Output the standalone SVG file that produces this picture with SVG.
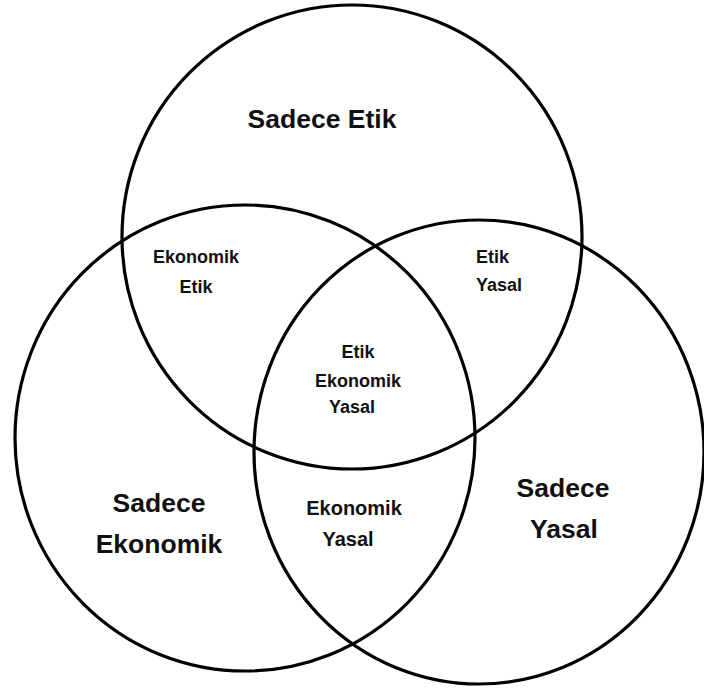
<svg xmlns="http://www.w3.org/2000/svg" width="704" height="691" viewBox="0 0 704 691">
<style>
.c{fill:none;stroke:#000;stroke-width:3.2}
text{font-family:"Liberation Sans",Arial,sans-serif;font-weight:bold;fill:#111}
.b{font-size:26.5px}
.s{font-size:18px}
.m{font-size:20px}
</style>
<rect width="704" height="691" fill="#fff"/>
<g id="circles">
<ellipse id="etik" class="c" cx="352" cy="237" rx="230" ry="232"/>
<ellipse id="ekonomik" class="c" cx="245" cy="438" rx="230" ry="233"/>
<ellipse id="yasal" class="c" cx="479" cy="452" rx="225" ry="232"/>
</g>
<g id="labels">
<text class="b" x="322" y="128" text-anchor="middle">Sadece Etik</text>
<g id="ekonomik-etik" class="s" text-anchor="middle">
<text class="s" x="196" y="263">Ekonomik</text>
<text class="s" x="196" y="293">Etik</text>
</g>
<g id="etik-yasal">
<text class="s" x="476" y="263">Etik</text>
<text class="s" x="476" y="291">Yasal</text>
</g>
<g id="center" text-anchor="middle">
<text class="s" x="358" y="358">Etik</text>
<text class="s" x="358" y="387">Ekonomik</text>
<text class="s" x="352" y="413">Yasal</text>
</g>
<g id="ekonomik-yasal" text-anchor="middle">
<text class="m" x="354" y="515">Ekonomik</text>
<text class="m" x="348" y="546">Yasal</text>
</g>
<g id="sadece-ekonomik" text-anchor="middle">
<text class="b" x="159" y="512">Sadece</text>
<text class="b" x="159" y="553">Ekonomik</text>
</g>
<g id="sadece-yasal" text-anchor="middle">
<text class="b" x="563" y="497">Sadece</text>
<text class="b" x="564" y="538">Yasal</text>
</g>
</g>
</svg>
